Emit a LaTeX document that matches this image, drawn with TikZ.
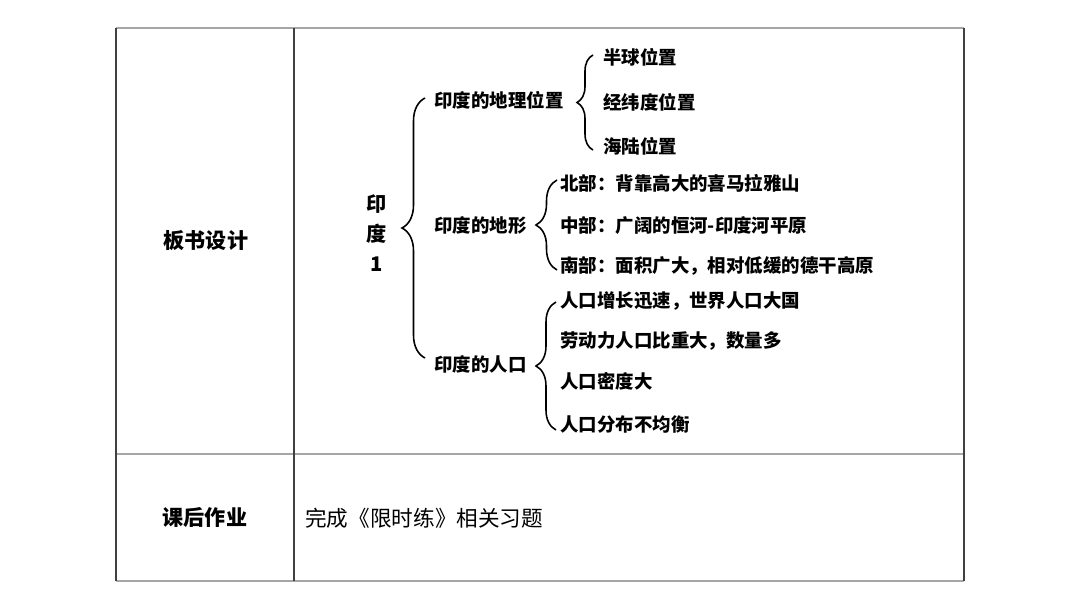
\documentclass[tikz,border=0pt]{standalone}
\usepackage{fontspec}
\setmainfont{Noto Sans CJK SC}
\usetikzlibrary{decorations.pathreplacing, calc}

\begin{document}
\begin{tikzpicture}[x=0.02cm, y=-0.02cm,
    hline/.style={draw=black!35, line width=1.1pt},
    vline/.style={draw=black!75, line width=0.8pt},
    cellhead/.style={inner sep=0pt, font=\fontsize{12}{14}\selectfont\bfseries},
    root/.style={align=center, inner sep=0pt, font=\fontsize{11.5}{17}\selectfont\bfseries},
    lvl/.style={anchor=west, inner sep=0pt, font=\fontsize{10.5}{12}\selectfont\bfseries},
    brc/.style={decorate, decoration={brace, amplitude=#1}, line width=0.9pt},
    brc/.default=0.4cm
  ]
    \useasboundingbox (0,0) rectangle (1080,605);
    % table
    \draw[hline] (116,28) -- (964,28);
    \draw[hline] (116,454) -- (964,454);
    \draw[hline] (116,581) -- (964,581);
    \draw[vline] (116,28) -- (116,581);
    \draw[vline] (294,28) -- (294,581);
    \draw[vline] (964,28) -- (964,581);
    \node[cellhead] (bsjs) at (206,241) {板书设计};
    \node[cellhead] (khzy) at (205,518) {课后作业};
    \node[anchor=west, inner sep=0pt, font=\fontsize{12.3}{14}\selectfont] (zuoye) at (305,518) {完成《限时练》相关习题};
    % tree
    \node[root] (yindu) at (377,233) {印\\度\\1};
    \node[lvl] (dlwz) at (434,100) {印度的地理位置};
    \node[lvl] (dx) at (434,225) {印度的地形};
    \node[lvl] (rk) at (434,364) {印度的人口};
    \node[lvl] (dl1) at (603,57) {半球位置};
    \node[lvl] (dl2) at (603,102) {经纬度位置};
    \node[lvl] (dl3) at (603,146) {海陆位置};
    \node[lvl] (dx1) at (560,183) {北部：背靠高大的喜马拉雅山};
    \node[lvl] (dx2) at (560,226) {中部：广阔的恒河-印度河平原};
    \node[lvl] (dx3) at (560,266) {南部：面积广大，相对低缓的德干高原};
    \node[lvl] (rk1) at (560,301) {人口增长迅速，世界人口大国};
    \node[lvl] (rk2) at (560,341) {劳动力人口比重大，数量多};
    \node[lvl] (rk3) at (560,381) {人口密度大};
    \node[lvl] (rk4) at (560,424) {人口分布不均衡};
    % braces
    \draw[brc=0.46cm] ($(rk.west)+(-9,-6)$) -- ($(dlwz.west)+(-9,-2)$);
    \draw[brc=0.32cm] ($(dl3.west)+(-10,4)$) -- ($(dl1.west)+(-10,-2)$);
    \draw[brc=0.42cm] ($(dx3.west)+(-3,4)$) -- ($(dx1.west)+(-3,-3)$);
    \draw[brc=0.40cm] ($(rk4.west)+(-4,6)$) -- ($(rk1.west)+(-4,1)$);
\end{tikzpicture}
\end{document}
